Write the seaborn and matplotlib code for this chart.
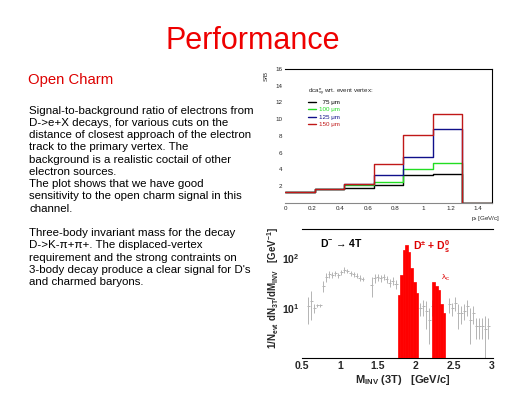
import numpy as np
import pandas as pd
import matplotlib
matplotlib.use("Agg")
import matplotlib.pyplot as plt
import seaborn as sns
from matplotlib.lines import Line2D
from matplotlib.ticker import MultipleLocator, LogLocator, LogFormatterMathtext, NullFormatter

# ---------------- data ----------------
title_text = "Performance"
section_text = "Open Charm"
body_lines = [
    "Signal-to-background ratio of electrons from",
    "D->e+X decays, for various cuts on the",
    "distance of closest approach of the electron",
    "track to the primary vertex. The",
    "background is a realistic coctail of other",
    "electron sources.",
    "The plot shows that we have good",
    "sensitivity to the open charm signal in this",
    "channel.",
    "",
    "Three-body invariant mass for the decay",
    "D->K-\u03c0+\u03c0+. The displaced-vertex",
    "requirement and the strong contraints on",
    "3-body decay produce a clear signal for D's",
    "and charmed baryons.",
]

# top panel: S/B vs pt for dca cuts
pt_edges = [0.0, 0.214, 0.429, 0.643, 0.857, 1.071, 1.286, 1.5]
sb_75 = [1.3, 1.65, 1.85, 2.1, 3.3, 3.45, 0.0]
sb_100 = [1.3, 1.65, 2.2, 2.45, 4.05, 4.8, 0.0]
sb_125 = [1.3, 1.65, 2.25, 3.3, 5.45, 8.85, 0.0]
sb_150 = [1.3, 1.65, 2.25, 4.6, 8.1, 10.65, 0.0]
dca_labels = ["  75 \u03bcm", "100 \u03bcm", "125 \u03bcm", "150 \u03bcm"]
dca_colors = ["#000000", "#22dd22", "#10108a", "#c01818"]
pt_ticks = [0, 0.2, 0.4, 0.6, 0.8, 1.0, 1.2, 1.4]
pt_ticklabels = ["0", "0.2", "0.4", "0.6", "0.8", "1", "1.2", "1.4"]
sb_ticks = [2, 4, 6, 8, 10, 12, 14, 16]

# bottom panel: 3-body invariant mass
d_edges = [1.760, 1.794, 1.828, 1.862, 1.896, 1.930, 1.964, 1.998, 2.032]
d_counts = [18, 45, 141, 178, 130, 63, 34, 20]
lc_edges = [2.220, 2.254, 2.288, 2.322, 2.356, 2.390]
lc_counts = [34, 28, 23, 12, 8]

bg_mass = [0.58, 0.62, 0.66, 0.70, 0.74, 0.78, 0.82, 0.86, 0.90, 0.94, 0.98,
           1.02, 1.06, 1.10, 1.14, 1.18, 1.22, 1.26, 1.30, 1.42, 1.46, 1.50,
           1.54, 1.58, 1.62, 1.66, 1.70, 1.74, 2.06, 2.10, 2.14, 2.18, 2.22,
           2.44, 2.48, 2.52, 2.56, 2.60, 2.64, 2.68, 2.72, 2.76, 2.80, 2.84,
           2.88, 2.92, 2.96]
bg_val = [11, 14, 10, 11.5, 11.5, 28, 42, 48, 46, 50, 45,
          52, 58, 55, 50, 47, 44, 40, 38, 29, 40, 41,
          40, 42, 38, 32, 35, 30, 10, 11, 9, 6, 11,
          12, 10, 13, 8, 8, 9, 11, 6, 8, 4.5, 4.5,
          4.5, 4.0, 4.5]
bg_err = [6, 8, 2, 1, 1, 7, 8, 8, 6, 6, 5,
          6, 7, 6, 6, 5, 5, 5, 3, 12, 8, 6,
          6, 6, 6, 6, 6, 6, 3, 4, 5, 4, 4,
          4, 3, 4, 4, 3, 3, 4, 4, 3, 2, 2,
          2, 3, 2]
m_ticks = [0.5, 1.0, 1.5, 2.0, 2.5, 3.0]
m_ticklabels = ["0.5", "1", "1.5", "2", "2.5", "3"]

# ---------------- style ----------------
sns.set_style("white")
plt.rcParams["font.family"] = ["Liberation Sans", "DejaVu Sans"]
plt.rcParams["mathtext.fontset"] = "custom"
plt.rcParams["mathtext.rm"] = "Liberation Sans"
plt.rcParams["mathtext.it"] = "Liberation Sans:italic"
plt.rcParams["mathtext.bf"] = "Liberation Sans:bold"
plt.rcParams["mathtext.default"] = "regular"

W, H = 512, 395
fig = plt.figure(figsize=(W / 100, H / 100), dpi=100)


def fx(px):
    return px / W


def fy(py):
    return 1 - py / H


# ---------------- slide text ----------------
fig.text(fx(252.5), fy(49.3), title_text, color="#ee0000", fontsize=22,
         ha="center", va="baseline")
fig.text(fx(28), fy(83.6), section_text, color="#dd0000", fontsize=10.7,
         ha="left", va="baseline")
for i, line in enumerate(body_lines):
    if line:
        fig.text(fx(29), fy(113.5 + 12.26 * i), line, color="black",
                 fontsize=8.25, ha="left", va="baseline")

# ---------------- top panel ----------------
ax1 = fig.add_axes([fx(285), fy(203), fx(492) - fx(285), fy(69) - fy(203)])
pt_centers = [(a + b) / 2 for a, b in zip(pt_edges[:-1], pt_edges[1:])]
series = [sb_75, sb_100, sb_125, sb_150]
for vals, col in zip(series, dca_colors):
    sns.histplot(x=pt_centers, weights=vals, bins=pt_edges, element="step",
                 fill=False, color=col, linewidth=1.0, ax=ax1)
ax1.set_xlim(0, 1.5)
ax1.set_ylim(0, 16)
ax1.set_xlabel("")
ax1.set_ylabel("")
ax1.set_xticks(pt_ticks)
ax1.set_xticklabels(pt_ticklabels)
ax1.set_yticks(sb_ticks)
ax1.set_yticklabels([str(t) for t in sb_ticks])
ax1.xaxis.set_minor_locator(MultipleLocator(0.05))
ax1.yaxis.set_minor_locator(MultipleLocator(0.5))
ax1.tick_params(axis="both", which="major", direction="in", length=3,
                width=0.6, labelsize=4.5, pad=2)
ax1.tick_params(axis="both", which="minor", direction="in", length=1.5,
                width=0.5)
ax1.tick_params(axis="x", top=False, which="both")
ax1.tick_params(axis="y", right=False, which="both")
for s in ax1.spines.values():
    s.set_linewidth(0.8)
    s.set_color("black")
ax1.spines["bottom"].set_color("#888888")
ax1.spines["left"].set_visible(False)

handles = [Line2D([0], [0], color=c, lw=1) for c in dca_colors]
leg = ax1.legend(handles, dca_labels, title="dca$^{e}_{xy}$ wrt. event vertex:",
                 loc="upper left", bbox_to_anchor=(0.1, 0.89), frameon=False,
                 fontsize=4.5, title_fontsize=4.5, handlelength=1.2,
                 handletextpad=0.6, labelspacing=0.35, borderaxespad=0,
                 labelcolor="linecolor", alignment="left")

fig.text(fx(266), fy(76), "S/B", rotation=90, fontsize=4.5, ha="center",
         va="center")
fig.text(fx(500), fy(218), "p$_{t}$ [GeV/c]", fontsize=4.5, ha="right",
         va="center")

# ---------------- bottom panel ----------------
ax2 = fig.add_axes([fx(302), fy(358), fx(493) - fx(302), fy(229) - fy(358)])
ax2.errorbar(bg_mass, bg_val, xerr=0.02, yerr=bg_err, fmt="none",
             ecolor="#b4b4b4", elinewidth=0.7, capsize=0, zorder=1)
d_centers = [(a + b) / 2 for a, b in zip(d_edges[:-1], d_edges[1:])]
lc_centers = [(a + b) / 2 for a, b in zip(lc_edges[:-1], lc_edges[1:])]
sns.histplot(x=d_centers, weights=d_counts, bins=d_edges, color="#ff0000",
             alpha=1, linewidth=0.5, edgecolor="#ff0000", ax=ax2, zorder=3)
sns.histplot(x=lc_centers, weights=lc_counts, bins=lc_edges, color="#ff0000",
             alpha=1, linewidth=0.5, edgecolor="#ff0000", ax=ax2, zorder=3)
ax2.set_yscale("log")
ax2.set_ylim(1.05, 370)
ax2.set_xlim(0.5, 3.02)
ax2.set_xlabel("")
ax2.set_ylabel("")
ax2.set_xticks(m_ticks)
ax2.set_xticklabels(m_ticklabels)
ax2.xaxis.set_minor_locator(MultipleLocator(0.1))
ax2.yaxis.set_major_locator(LogLocator(base=10, numticks=5))
ax2.yaxis.set_major_formatter(LogFormatterMathtext())
ax2.yaxis.set_minor_locator(LogLocator(base=10, subs=np.arange(2, 10), numticks=20))
ax2.yaxis.set_minor_formatter(NullFormatter())
ax2.tick_params(axis="both", which="major", direction="in", length=4,
                width=0.6, labelsize=7.5, pad=2)
ax2.tick_params(axis="both", which="minor", direction="in", length=2,
                width=0.5)
for lab in ax2.get_xticklabels() + ax2.get_yticklabels():
    lab.set_fontweight("bold")
for s in ax2.spines.values():
    s.set_linewidth(0.8)
    s.set_color("black")
ax2.spines["left"].set_visible(False)
ax2.spines["right"].set_visible(False)

ax2.text(0.74, 195, "D$^{-}$ \u2192 4T", fontsize=7.5, fontweight="bold",
         color="black", ha="left", va="center")
ax2.text(1.96, 165, "D$^{\\pm}$ + D$^{0}_{s}$", fontsize=7.5,
         fontweight="bold", color="#dd0000", ha="left", va="center")
ax2.text(2.33, 40, "\u03bb$_{c}$", fontsize=6, color="#dd0000", ha="left",
         va="center")

fig.text(fx(273), fy(288.5),
         "1/N$_{evt}$ dN$_{3T}$/dM$_{INV}$   [GeV$^{-1}$]",
         rotation=90, fontsize=7, fontweight="bold", ha="center",
         va="center")
fig.text(fx(403), fy(380), "M$_{INV}$ (3T)   [GeV/c]", fontsize=8,
         fontweight="bold", ha="center", va="center")

fig.savefig("out.png", dpi=100)
